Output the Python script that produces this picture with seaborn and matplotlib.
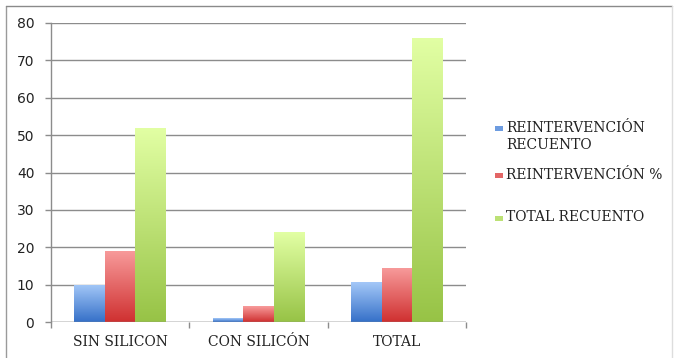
import numpy as np
import pandas as pd
import matplotlib
matplotlib.use("Agg")
import matplotlib.pyplot as plt
import matplotlib.colors as mcolors
from matplotlib.patches import Rectangle
from matplotlib.lines import Line2D
import seaborn as sns

categories = ["SIN SILICON", "CON SILICÓN", "TOTAL"]
series_names = ["REINTERVENCIÓN\nRECUENTO", "REINTERVENCIÓN %", "TOTAL RECUENTO"]
reint_recuento = [10, 1, 10.7]
reint_pct = [19, 4.2, 14.5]
total_recuento = [52, 24, 76]
y_ticks = [0, 10, 20, 30, 40, 50, 60, 70, 80]

# gradient colours (top, bottom) per series
grad_colors = [("#a4c8f8", "#3570c8"), ("#f89c9c", "#cf3030"), ("#e2ffa4", "#97c346")]
base_colors = ["#6f9fe0", "#e46a6a", "#bfe176"]

df = pd.DataFrame({
    "cat": categories * 3,
    "serie": [series_names[0]] * 3 + [series_names[1]] * 3 + [series_names[2]] * 3,
    "val": reint_recuento + reint_pct + total_recuento,
})

sns.set_style("white")
plt.rcParams["font.family"] = ["DejaVu Sans"]

fig = plt.figure(figsize=(6.74, 3.58), dpi=100)
ax = fig.add_axes([51 / 674, 1 - 322 / 358, (466 - 51) / 674, (322 - 23) / 358])

sns.barplot(data=df, x="cat", y="val", hue="serie", order=categories,
            hue_order=series_names, palette=base_colors, width=0.665,
            gap=0, saturation=1, ax=ax, legend=False, linewidth=0)

# gradient fill per bar
for i, container in enumerate(ax.containers):
    top, bot = grad_colors[i]
    cmap = mcolors.LinearSegmentedColormap.from_list("g%d" % i, [bot, top])
    grad = np.linspace(0, 1, 256).reshape(-1, 1)
    for patch in container.patches:
        x0 = patch.get_x()
        w = patch.get_width()
        h = patch.get_height()
        im = ax.imshow(grad, cmap=cmap, aspect="auto", origin="lower",
                       extent=[x0, x0 + w, 0, h], zorder=patch.get_zorder() + 0.1,
                       interpolation="bilinear")
        im.set_clip_path(patch)
ax.set_xlim(-0.5, 2.5)
ax.set_ylim(0, 80)

# grid
ax.set_yticks(y_ticks)
ax.yaxis.grid(True, color="#8c8c8c", linewidth=1)
ax.set_axisbelow(True)
for s in ["top", "right", "bottom"]:
    ax.spines[s].set_visible(False)
ax.spines["left"].set_color("#8c8c8c")
ax.spines["left"].set_linewidth(1)
ax.axhline(0, color="#8c8c8c", linewidth=1, zorder=5)

ax.tick_params(axis="y", length=4, width=1, color="#8c8c8c", pad=8,
               labelsize=10, labelcolor="#222222", left=True)
ax.set_yticklabels([str(t) for t in y_ticks])

# x ticks at boundaries, labels at centres
ax.set_xticks([-0.5, 0.5, 1.5, 2.5])
ax.set_xticklabels([])
ax.set_xticks([0, 1, 2], minor=True)
ax.set_xticklabels(categories, minor=True, family="DejaVu Serif",
                   fontsize=10, color="#222222")
ax.tick_params(axis="x", which="minor", length=0, pad=9)
ax.tick_params(axis="x", which="major", length=4, width=1, color="#8c8c8c",
               bottom=True)
ax.set_xlabel("")
ax.set_ylabel("")

# legend (manual)
leg_y = [128, 175, 218]
for i, name in enumerate(series_names):
    y = 1 - leg_y[i] / 358
    fig.add_artist(Rectangle((495 / 674, y - 2.5 / 358), 8 / 674, 5 / 358,
                             transform=fig.transFigure,
                             facecolor=mcolors.to_hex(
                                 np.mean([mcolors.to_rgb(grad_colors[i][0]),
                                          mcolors.to_rgb(grad_colors[i][1])], axis=0)),
                             edgecolor="none"))
    fig.text(506 / 674, y + 7.5 / 358, name, family="DejaVu Serif",
             fontsize=10, color="#222222", va="top", ha="left",
             linespacing=1.35)

# outer frame
fig.add_artist(Line2D([6 / 674, 6 / 674], [0, 1 - 6 / 358],
                      transform=fig.transFigure, color="#9a9a9a", linewidth=1))
fig.add_artist(Line2D([6 / 674, 672 / 674], [1 - 6 / 358, 1 - 6 / 358],
                      transform=fig.transFigure, color="#8a8a8a", linewidth=1))
fig.add_artist(Line2D([672 / 674, 672 / 674], [0, 1 - 6 / 358],
                      transform=fig.transFigure, color="#dddddd", linewidth=1))

fig.savefig("out.png", dpi=100)
